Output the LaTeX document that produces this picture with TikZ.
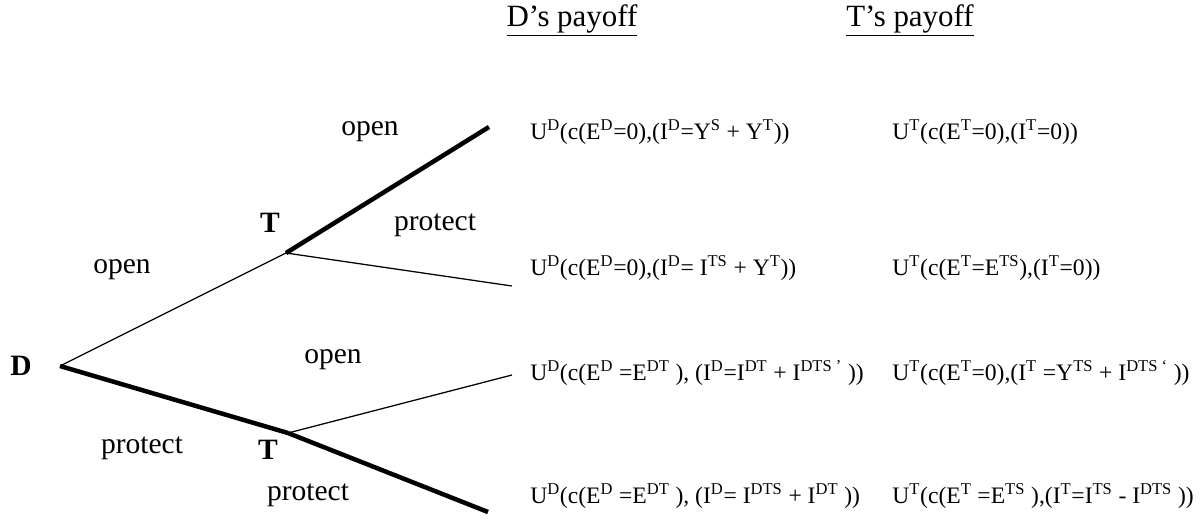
\documentclass[tikz,border=0pt]{standalone}
\usepackage{fontspec}
\setmainfont{Liberation Serif}
\usepackage{tikz}
\usetikzlibrary{positioning}
\tikzstyle{thinbranch}=[line width=0.9pt]
\tikzstyle{thickbranch}=[line width=3.2pt]
\tikzstyle{player}=[inner sep=0pt, font=\fontsize{21}{25}\selectfont\bfseries]
\tikzstyle{movelabel}=[inner sep=0pt, font=\fontsize{21}{25}\selectfont]
\tikzstyle{heading}=[inner sep=0pt, font=\fontsize{22}{26}\selectfont]
\tikzstyle{payoff}=[inner sep=0pt, anchor=west, font=\fontsize{16.8}{20}\selectfont]
\newcommand{\sps}[1]{\textsuperscript{#1}}

\begin{document}
\begin{tikzpicture}
\useasboundingbox (0,0) rectangle (30.075,-13.275);

% headings
\node[heading] (hd) at (14.3,-0.5) {\underline{D’s payoff}};
\node[heading] (ht) at (22.75,-0.5) {\underline{T’s payoff}};

% decision nodes
\coordinate (root) at (1.5,-9.15);
\coordinate (tup) at (7.15,-6.325);
\coordinate (tlow) at (7.2,-10.825);
\coordinate (end1) at (12.225,-3.175);
\coordinate (end2) at (12.8,-7.15);
\coordinate (end3) at (12.8,-9.375);
\coordinate (end4) at (12.2,-12.8);

\node[player] (d) at (0.525,-9.15) {D};
\node[player] (t1) at (6.75,-5.575) {T};
\node[player] (t2) at (6.7,-11.25) {T};

\node[movelabel] (l1) at (3.05,-6.75) {open};
\node[movelabel] (l2) at (3.55,-11.2) {protect};
\node[movelabel] (l3) at (9.25,-3.3) {open};
\node[movelabel] (l4) at (10.875,-5.625) {protect};
\node[movelabel] (l5) at (8.325,-9.0) {open};
\node[movelabel] (l6) at (7.7,-12.375) {protect};

\draw[thinbranch] (root) -- (tup);
\draw[thickbranch] (root) -- (tlow);
\draw[thickbranch] (tup) -- (end1);
\draw[thinbranch] (tup) -- (end2);
\draw[thinbranch] (tlow) -- (end3);
\draw[thickbranch] (tlow) -- (end4);

% payoffs
\node[payoff] (pd1) at (13.25,-3.3) {U\sps{D}(c(E\sps{D}=0),(I\sps{D}=Y\sps{S} + Y\sps{T}))};
\node[payoff] (pd2) at (13.25,-6.7) {U\sps{D}(c(E\sps{D}=0),(I\sps{D}= I\sps{TS} + Y\sps{T}))};
\node[payoff] (pd3) at (13.25,-9.325) {U\sps{D}(c(E\sps{D} =E\sps{DT} ), (I\sps{D}=I\sps{DT} + I\sps{DTS ’} ))};
\node[payoff] (pd4) at (13.25,-12.4) {U\sps{D}(c(E\sps{D} =E\sps{DT} ), (I\sps{D}= I\sps{DTS} + I\sps{DT} ))};
\node[payoff] (pt1) at (22.3,-3.3) {U\sps{T}(c(E\sps{T}=0),(I\sps{T}=0))};
\node[payoff] (pt2) at (22.3,-6.7) {U\sps{T}(c(E\sps{T}=E\sps{TS}),(I\sps{T}=0))};
\node[payoff] (pt3) at (22.3,-9.325) {U\sps{T}(c(E\sps{T}=0),(I\sps{T} =Y\sps{TS} + I\sps{DTS ‘} ))};
\node[payoff] (pt4) at (22.3,-12.4) {U\sps{T}(c(E\sps{T} =E\sps{TS} ),(I\sps{T}=I\sps{TS} - I\sps{DTS} ))};

\end{tikzpicture}
\end{document}
